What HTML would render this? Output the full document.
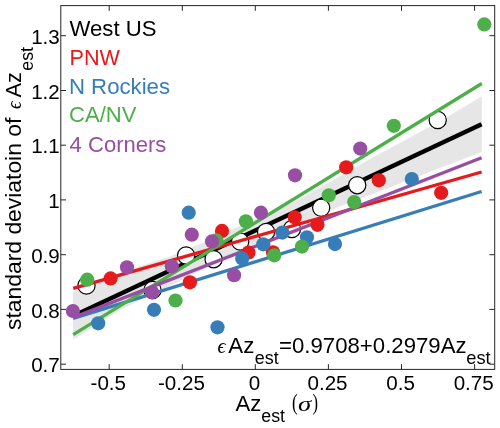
<!DOCTYPE html>
<html lang="en"><head><meta charset="utf-8"><title>Standard deviation of Az est by region</title>
<style>html,body{margin:0;padding:0;background:#fff}svg{display:block}text{font-family:"Liberation Sans",sans-serif;fill:#000}.s{font-family:"Liberation Serif","DejaVu Serif",serif;font-style:italic}.p{font-family:"Liberation Serif","DejaVu Serif",serif}</style></head><body>
<svg width="500" height="428" viewBox="0 0 500 428">
<rect width="500" height="428" fill="#fff"/>
<polygon fill="#e6e6e6" points="73.0,291.8 120.0,272.5 170.0,256.6 205.0,241.9 236.6,227.6 300.0,199.1 370.0,159.0 440.0,121.2 481.8,96.3 481.8,152.0 440.0,168.0 374.0,193.5 340.0,206.3 230.0,255.5 170.0,286.1 145.0,297.5 120.0,310.0 90.0,329.3 73.0,339.5"/>
<line x1="73.2" y1="316.0" x2="481.6" y2="124.2" stroke="#000" stroke-width="4.3"/>
<circle cx="86.5" cy="285.5" r="8.6" fill="#fff" stroke="#000" stroke-width="1.2"/>
<circle cx="152.5" cy="290.0" r="8.6" fill="#fff" stroke="#000" stroke-width="1.2"/>
<circle cx="186.1" cy="255.5" r="8.6" fill="#fff" stroke="#000" stroke-width="1.2"/>
<circle cx="213.6" cy="259.2" r="8.6" fill="#fff" stroke="#000" stroke-width="1.2"/>
<circle cx="240.2" cy="241.6" r="8.6" fill="#fff" stroke="#000" stroke-width="1.2"/>
<circle cx="266.1" cy="231.9" r="8.6" fill="#fff" stroke="#000" stroke-width="1.2"/>
<circle cx="292.0" cy="229.0" r="8.6" fill="#fff" stroke="#000" stroke-width="1.2"/>
<circle cx="321.2" cy="207.8" r="8.6" fill="#fff" stroke="#000" stroke-width="1.2"/>
<circle cx="357.2" cy="185.2" r="8.6" fill="#fff" stroke="#000" stroke-width="1.2"/>
<circle cx="437.7" cy="120.0" r="8.6" fill="#fff" stroke="#000" stroke-width="1.2"/>
<line x1="73.2" y1="288.3" x2="481.6" y2="172.0" stroke="#e41a1c" stroke-width="3.3"/>
<line x1="73.2" y1="318.3" x2="481.6" y2="191.5" stroke="#377eb8" stroke-width="3.3"/>
<line x1="73.2" y1="334.6" x2="481.8" y2="83.5" stroke="#4daf4a" stroke-width="3.3"/>
<line x1="73.2" y1="317.6" x2="481.6" y2="157.8" stroke="#984ea3" stroke-width="3.3"/>
<circle cx="110.6" cy="278.4" r="7.1" fill="#e41a1c"/>
<circle cx="189.9" cy="282.3" r="7.1" fill="#e41a1c"/>
<circle cx="222.0" cy="230.9" r="7.1" fill="#e41a1c"/>
<circle cx="248.5" cy="252.5" r="7.1" fill="#e41a1c"/>
<circle cx="273.0" cy="252.3" r="7.1" fill="#e41a1c"/>
<circle cx="294.7" cy="217.3" r="7.1" fill="#e41a1c"/>
<circle cx="317.5" cy="224.8" r="7.1" fill="#e41a1c"/>
<circle cx="346.2" cy="167.3" r="7.1" fill="#e41a1c"/>
<circle cx="378.8" cy="180.3" r="7.1" fill="#e41a1c"/>
<circle cx="441.2" cy="192.8" r="7.1" fill="#e41a1c"/>
<circle cx="98.2" cy="323.3" r="7.1" fill="#377eb8"/>
<circle cx="154.0" cy="309.8" r="7.1" fill="#377eb8"/>
<circle cx="188.7" cy="212.7" r="7.1" fill="#377eb8"/>
<circle cx="217.5" cy="327.3" r="7.1" fill="#377eb8"/>
<circle cx="242.2" cy="258.4" r="7.1" fill="#377eb8"/>
<circle cx="263.3" cy="244.3" r="7.1" fill="#377eb8"/>
<circle cx="282.4" cy="232.6" r="7.1" fill="#377eb8"/>
<circle cx="307.0" cy="237.3" r="7.1" fill="#377eb8"/>
<circle cx="335.0" cy="244.1" r="7.1" fill="#377eb8"/>
<circle cx="411.8" cy="179.0" r="7.1" fill="#377eb8"/>
<circle cx="87.2" cy="279.7" r="7.1" fill="#4daf4a"/>
<circle cx="175.5" cy="300.5" r="7.1" fill="#4daf4a"/>
<circle cx="216.4" cy="240.4" r="7.1" fill="#4daf4a"/>
<circle cx="245.9" cy="221.3" r="7.1" fill="#4daf4a"/>
<circle cx="274.3" cy="255.3" r="7.1" fill="#4daf4a"/>
<circle cx="302.0" cy="246.6" r="7.1" fill="#4daf4a"/>
<circle cx="328.8" cy="195.3" r="7.1" fill="#4daf4a"/>
<circle cx="354.2" cy="202.1" r="7.1" fill="#4daf4a"/>
<circle cx="393.8" cy="125.8" r="7.1" fill="#4daf4a"/>
<circle cx="484.3" cy="24.4" r="7.1" fill="#4daf4a"/>
<circle cx="72.9" cy="311.0" r="7.1" fill="#984ea3"/>
<circle cx="127.0" cy="267.3" r="7.1" fill="#984ea3"/>
<circle cx="152.0" cy="292.3" r="7.1" fill="#984ea3"/>
<circle cx="171.8" cy="266.3" r="7.1" fill="#984ea3"/>
<circle cx="191.8" cy="234.7" r="7.1" fill="#984ea3"/>
<circle cx="212.0" cy="241.4" r="7.1" fill="#984ea3"/>
<circle cx="234.1" cy="275.2" r="7.1" fill="#984ea3"/>
<circle cx="260.9" cy="212.7" r="7.1" fill="#984ea3"/>
<circle cx="295.0" cy="175.3" r="7.1" fill="#984ea3"/>
<circle cx="360.2" cy="148.6" r="7.1" fill="#984ea3"/>
<rect x="60.8" y="5.6" width="433.9" height="363.8" fill="none" stroke="#262626" stroke-width="1"/>
<path d="M109.2 369.4v-5.2 M109.2 5.6v5.2 M182.3 369.4v-5.2 M182.3 5.6v5.2 M255.3 369.4v-5.2 M255.3 5.6v5.2 M328.4 369.4v-5.2 M328.4 5.6v5.2 M401.5 369.4v-5.2 M401.5 5.6v5.2 M474.6 369.4v-5.2 M474.6 5.6v5.2 M60.8 35.7h5.2 M494.6 35.7h-5.2 M60.8 90.5h5.2 M494.6 90.5h-5.2 M60.8 145.2h5.2 M494.6 145.2h-5.2 M60.8 199.9h5.2 M494.6 199.9h-5.2 M60.8 254.7h5.2 M494.6 254.7h-5.2 M60.8 309.4h5.2 M494.6 309.4h-5.2 M60.8 364.2h5.2 M494.6 364.2h-5.2" stroke="#262626" stroke-width="1" fill="none"/>
<text transform="translate(69.48,35.80) scale(0.9945,1)" font-size="22.3">West US</text>
<text transform="translate(69.48,64.80) scale(0.9700,1)" font-size="22.3" style="fill:#e41a1c">PNW</text>
<text transform="translate(68.93,93.70) scale(0.9952,1)" font-size="22.3" style="fill:#377eb8">N Rockies</text>
<text transform="translate(68.99,122.40) scale(0.9899,1)" font-size="22.3" style="fill:#4daf4a">CA/NV</text>
<text transform="translate(69.61,151.80) scale(0.9884,1)" font-size="22.3" style="fill:#984ea3">4 Corners</text>
<text transform="translate(108.30,389.90) scale(1.0300,1)" font-size="20" text-anchor="middle">-0.5</text>
<text transform="translate(181.40,389.90) scale(1.0300,1)" font-size="20" text-anchor="middle">-0.25</text>
<text transform="translate(254.40,389.90) scale(1.0300,1)" font-size="20" text-anchor="middle">0</text>
<text transform="translate(327.50,389.90) scale(1.0300,1)" font-size="20" text-anchor="middle">0.25</text>
<text transform="translate(400.60,389.90) scale(1.0300,1)" font-size="20" text-anchor="middle">0.5</text>
<text transform="translate(473.70,389.90) scale(1.0300,1)" font-size="20" text-anchor="middle">0.75</text>
<text transform="translate(59.80,43.80) scale(1.0300,1)" font-size="20" text-anchor="end">1.3</text>
<text transform="translate(59.80,98.55) scale(1.0300,1)" font-size="20" text-anchor="end">1.2</text>
<text transform="translate(59.80,153.30) scale(1.0300,1)" font-size="20" text-anchor="end">1.1</text>
<text transform="translate(59.80,208.05) scale(1.0300,1)" font-size="20" text-anchor="end">1</text>
<text transform="translate(59.80,262.80) scale(1.0300,1)" font-size="20" text-anchor="end">0.9</text>
<text transform="translate(59.80,317.55) scale(1.0300,1)" font-size="20" text-anchor="end">0.8</text>
<text transform="translate(59.80,372.30) scale(1.0300,1)" font-size="20" text-anchor="end">0.7</text>
<text transform="translate(235.48,411.20) scale(0.9939,1)" font-size="22.3">Az</text>
<text transform="translate(261.29,421.60) scale(0.9451,1)" font-size="18.8">est</text>
<text transform="translate(292.05,410.30) scale(0.7489,1)" font-size="22.7" class="p">(</text>
<text transform="translate(297.90,411.00) scale(1.2723,1)" font-size="21" class="s">σ</text>
<text transform="translate(312.45,410.30) scale(0.7304,1)" font-size="22.7" class="p">)</text>
<text transform="translate(217.40,352.70) scale(0.9647,1)" font-size="21" class="s">ϵ</text>
<text transform="translate(228.37,352.50) scale(1.0020,1)" font-size="22.3">Az</text>
<text transform="translate(254.78,363.70) scale(0.9534,1)" font-size="18.8">est</text>
<text transform="translate(279.08,352.50) scale(0.9949,1)" font-size="22.3">=0.9708+0.2979Az</text>
<text transform="translate(466.27,363.70) scale(0.9699,1)" font-size="18.8">est</text>
<text transform="translate(21.20,329.94) rotate(-90) scale(1.0258,1)" font-size="22.3">standard deviatoin of</text>
<text transform="translate(21.40,108.96) rotate(-90) scale(0.8941,1)" font-size="21" class="s">ϵ</text>
<text transform="translate(21.20,97.52) rotate(-90) scale(0.9778,1)" font-size="22.3">Az</text>
<text transform="translate(33.10,70.71) rotate(-90) scale(0.9451,1)" font-size="18.8">est</text>
</svg></body></html>
